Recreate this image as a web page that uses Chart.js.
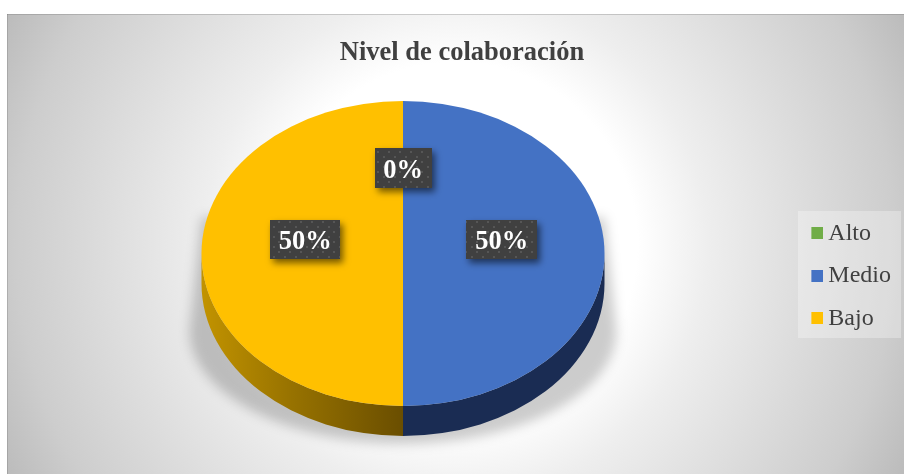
<!DOCTYPE html>
<html>
<head>
<meta charset="utf-8">
<script src="https://cdn.jsdelivr.net/npm/chart.js@4/dist/chart.umd.min.js"></script>
<style>
  html, body { margin: 0; padding: 0; background: #fff; overflow: hidden; }
  #wrap { position: absolute; left: 7px; top: 14px; width: 897px; height: 460px; }
</style>
</head>
<body>
<div id="wrap"><canvas id="myChart" width="897" height="460"></canvas></div>
<script>
'use strict';

const categories = ['Alto', 'Medio', 'Bajo'];
const values = [0, 50, 50];
const colors = ['#70ad47', '#4472c4', '#ffc000'];
const titleText = 'Nivel de colaboración';

// canvas is shifted 7,14 from the page, everything below is canvas px
const pie = { x: 396, y: 239.5, rx: 201.5, ry: 152.5, depth: 30 };
const legendBox = { x: 791, y: 197, w: 103, h: 127 };
const labelBoxes = [[57, 40], [71, 39], [70, 39]];
const labelNudge = [[0, -9], [-2, -14], [3, -14]];

const FONT = "'Liberation Serif', 'Times New Roman', serif";

// 12px square sitting at the right of a 16px wide canvas, keeps Excel's small gap before the text
function swatch(color) {
    const c = document.createElement('canvas');
    c.width = 16;
    c.height = 12;
    const g = c.getContext('2d');
    g.fillStyle = color;
    g.fillRect(4, 0, 12, 12);
    return c;
}

function dotPattern(ctx) {
    const c = document.createElement('canvas');
    c.width = 11;
    c.height = 10;
    const g = c.getContext('2d');
    g.fillStyle = '#404040';
    g.fillRect(0, 0, 11, 10);
    g.fillStyle = '#565656';
    g.fillRect(2, 2, 2, 2);
    g.fillRect(7, 7, 2, 2);
    return ctx.createPattern(c, 'repeat');
}

const pieDecor = {
    id: 'pieDecor',
    beforeDraw(chart) {
        const { ctx, width, height } = chart;
        const grad = ctx.createRadialGradient(width / 2, height / 2, 0, width / 2, height / 2, 505);
        grad.addColorStop(0, '#ffffff');
        grad.addColorStop(0.36, '#ffffff');
        grad.addColorStop(0.5, '#eeeeee');
        grad.addColorStop(0.87, '#cdcdcd');
        grad.addColorStop(1, '#bbbbbb');
        ctx.save();
        ctx.fillStyle = grad;
        ctx.fillRect(0, 0, width, height);
        // thin darker edge along the top and left of the chart frame
        ctx.fillStyle = 'rgba(110,110,110,0.3)';
        ctx.fillRect(0, 0, width, 1);
        ctx.fillRect(0, 0, 1, height);
        ctx.fillStyle = 'rgba(255,255,255,0.3)';
        ctx.fillRect(legendBox.x, legendBox.y, legendBox.w, legendBox.h);
        ctx.restore();
    },
    beforeDatasetsDraw(chart) {
        const { ctx } = chart;
        const arcs = chart.getDatasetMeta(0).data;

        // soft shadow behind the disc
        ctx.save();
        ctx.filter = 'blur(6px)';
        ctx.fillStyle = 'rgba(0,0,0,0.2)';
        ctx.beginPath();
        ctx.moveTo(pie.x - pie.rx, pie.y - 36);
        ctx.lineTo(pie.x - pie.rx - 12, pie.y + 77);
        ctx.ellipse(pie.x, pie.y + 77, pie.rx + 12, 113, 0, Math.PI, 0, true);
        ctx.lineTo(pie.x + pie.rx, pie.y - 36);
        ctx.closePath();
        ctx.fill();
        ctx.restore();

        // side wall, only the lower half of each slice shows
        arcs.forEach((arc, i) => {
            const a = Math.max(arc.startAngle, 0);
            const b = Math.min(arc.endAngle, Math.PI);
            if (values[i] === 0 || b <= a) return;
            let fill;
            if (i === 2) {
                fill = ctx.createLinearGradient(pie.x - pie.rx, 0, pie.x, 0);
                fill.addColorStop(0, '#c29300');
                fill.addColorStop(0.45, '#977200');
                fill.addColorStop(1, '#6a4e00');
            } else {
                fill = '#1a2c53';
            }
            ctx.save();
            ctx.fillStyle = fill;
            ctx.beginPath();
            ctx.ellipse(pie.x, pie.y, pie.rx, pie.ry, 0, a, b);
            ctx.ellipse(pie.x, pie.y + pie.depth, pie.rx, pie.ry, 0, b, a, true);
            ctx.closePath();
            ctx.fill();
            ctx.restore();
        });

        // squash the library's round pie into the tilted ellipse
        const first = arcs[0];
        ctx.save();
        ctx.translate(pie.x, pie.y);
        ctx.scale(pie.rx / first.outerRadius, pie.ry / first.outerRadius);
        ctx.translate(-first.x, -first.y);
    },
    afterDatasetsDraw(chart) {
        const { ctx } = chart;
        ctx.restore();

        const arcs = chart.getDatasetMeta(0).data;
        const total = values.reduce((s, v) => s + v, 0);
        const pattern = dotPattern(ctx);
        arcs.forEach((arc, i) => {
            const mid = (arc.startAngle + arc.endAngle) / 2;
            const cx = pie.x + Math.cos(mid) * pie.rx / 2 + labelNudge[i][0];
            const cy = pie.y + Math.sin(mid) * pie.ry / 2 + labelNudge[i][1];
            const [w, h] = labelBoxes[i];
            ctx.save();
            ctx.shadowColor = 'rgba(0,0,0,0.55)';
            ctx.shadowBlur = 7;
            ctx.shadowOffsetX = 3;
            ctx.shadowOffsetY = 4;
            ctx.fillStyle = pattern;
            ctx.fillRect(Math.round(cx - w / 2), Math.round(cy - h / 2), w, h);
            ctx.restore();

            ctx.save();
            ctx.fillStyle = '#ffffff';
            ctx.font = 'bold 26.5px ' + FONT;
            ctx.textAlign = 'center';
            ctx.textBaseline = 'middle';
            ctx.fillText(Math.round(values[i] / total * 100) + '%', cx, cy + 2.5);
            ctx.restore();
        });
    }
};

const ctx = document.getElementById('myChart').getContext('2d');

const myChart = new Chart(ctx, {
    type: 'pie',
    data: {
        labels: categories,
        datasets: [{
            data: values,
            backgroundColor: colors,
            borderWidth: 0,
            clip: false
        }]
    },
    plugins: [pieDecor],
    options: {
        responsive: false,
        animation: false,
        events: [],
        layout: {
            padding: { left: 16, right: 3, top: 0, bottom: 0 }
        },
        plugins: {
            tooltip: { enabled: false },
            title: {
                display: true,
                text: titleText,
                color: '#404040',
                font: { family: FONT, size: 26.5, weight: 'bold' },
                padding: { top: 23, bottom: 9 }
            },
            legend: {
                position: 'right',
                fullSize: false,
                labels: {
                    color: '#404040',
                    font: { family: FONT, size: 24 },
                    usePointStyle: true,
                    pointStyleWidth: 2,
                    padding: 18.5,
                    generateLabels(chart) {
                        const items = Chart.overrides.pie.plugins.legend.labels.generateLabels(chart);
                        items.forEach((item, i) => { item.pointStyle = swatch(colors[i]); });
                        return items;
                    }
                }
            }
        }
    }
});
</script>
</body>
</html>
